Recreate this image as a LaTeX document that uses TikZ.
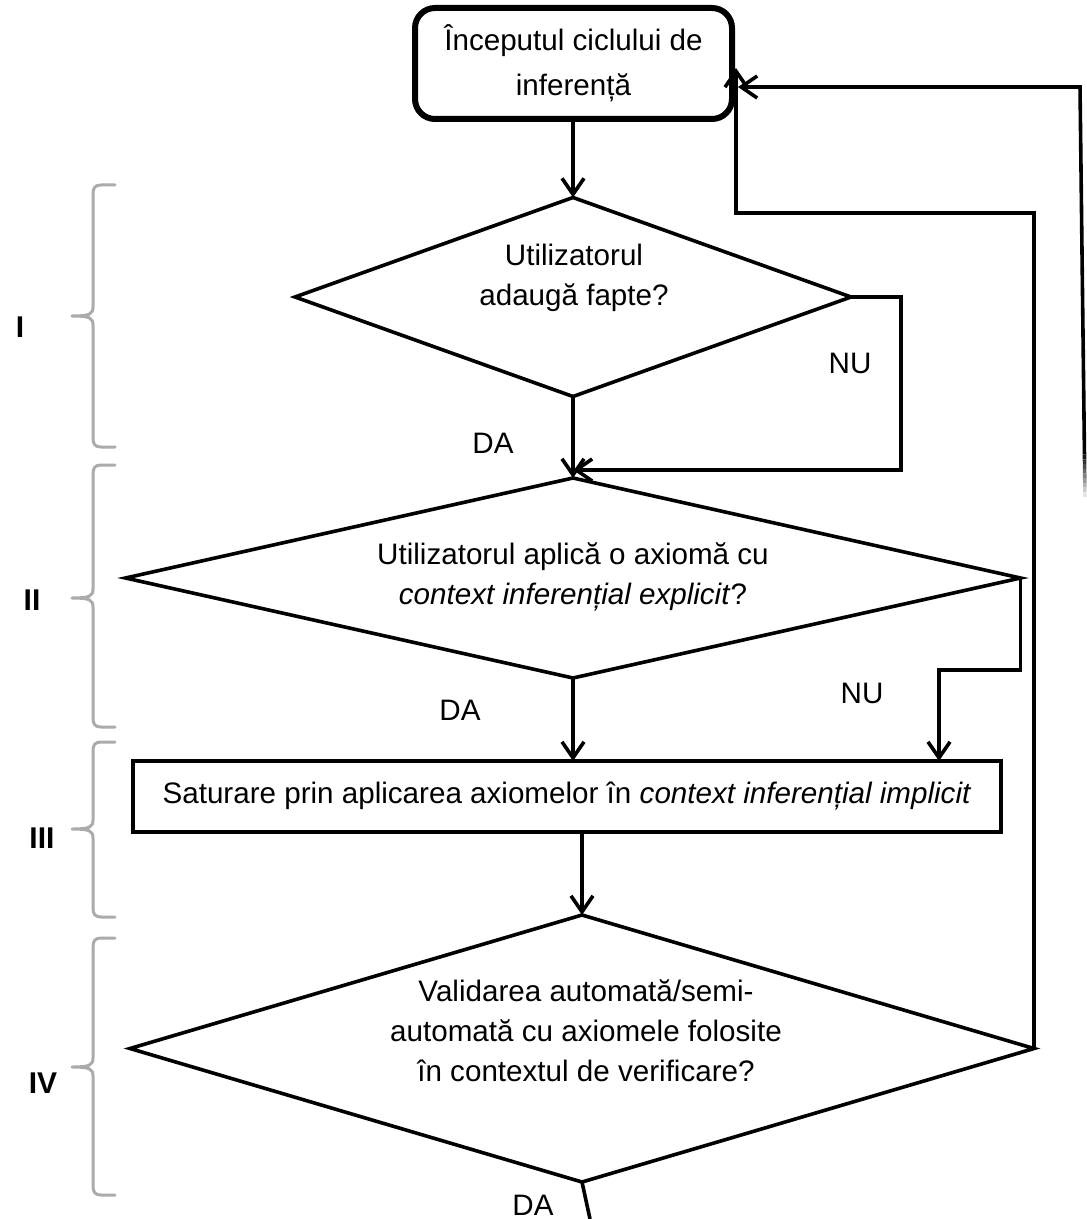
\documentclass[tikz,border=0pt]{standalone}
\usepackage{fontspec}
\setmainfont{Liberation Sans}
\usetikzlibrary{arrows.meta,shapes.geometric}

% grey curly bracket marking a stage: top, tip, bottom
\newcommand\grpbrace[3]{%
  \draw[stagebrace] (115,#1) -- (101,#1) .. controls (95,#1) and (93,#1+3) .. (93,#1+9)
    -- (93,#2-9) .. controls (93,#2-2) and (90,#2) .. (72,#2)
    .. controls (90,#2) and (93,#2+2) .. (93,#2+9)
    -- (93,#3-9) .. controls (93,#3-3) and (95,#3) .. (101,#3) -- (115,#3);}

\begin{document}
\begin{tikzpicture}[x=0.5pt,y=-0.5pt,
  every node/.style={font=\fontsize{14.8}{20}\selectfont, inner sep=0pt, outer sep=0pt},
  flow/.style={line width=1.8pt, line join=miter},
  arr/.style={flow, -{Straight Barb[length=8pt,width=11pt,line width=1.8pt]}},
  decision/.style={shape=diamond, draw, line width=1.8pt, inner sep=0pt, outer sep=0pt},
  startbox/.style={draw, line width=3pt, rounded corners=10pt, align=center,
    font=\fontsize{14.8}{22.5}\selectfont},
  procbox/.style={draw, line width=2pt},
  dtext/.style={align=center},
  answer/.style={},
  stagebrace/.style={draw=black!33, line width=1.5pt, line join=round, line cap=round},
  stage/.style={font=\fontsize{15}{20}\selectfont\bfseries}
]
\useasboundingbox (0,0) rectangle (1086,1219);

% start of the cycle
\node[startbox, minimum width=158.5pt, minimum height=55.5pt] (start) at (573.5,63.5)
  {Începutul ciclului de\\inferență};

% stage I
\node[decision, minimum width=278pt, minimum height=99.5pt] (d1) at (573,297) {};
\node[dtext] (t1) at (574,278) {Utilizatorul\\adaugă fapte?};

% stage II
\node[decision, minimum width=447.5pt, minimum height=100pt] (d2) at (573,578) {};
\node[dtext] (t2) at (573,577) {Utilizatorul aplică o axiomă cu\\\textit{context inferențial explicit}?};

% stage III
\node[procbox, minimum width=434pt, minimum height=35.5pt] (r) at (567,796.5)
  {Saturare prin aplicarea axiomelor în \textit{context inferențial implicit}};

% stage IV
\node[decision, minimum width=452pt, minimum height=133.5pt] (d3) at (582,1048.5) {};
\node[dtext] (t3) at (586,1031) {Validarea automată/semi-\\automată cu axiomele folosite\\în contextul de verificare?};

% answers
\node[answer] (da1) at (493,443) {DA};
\node[answer] (nu1) at (850,363) {NU};
\node[answer] (da2) at (460,710) {DA};
\node[answer] (nu2) at (862,693) {NU};
\node[answer] (da3) at (533,1205) {DA};

% routing points
\coordinate (j1) at (573,470);
\coordinate (k1) at (901,297);
\coordinate (k2) at (939,670);
\coordinate (backA) at (1036,213);
\coordinate (backB) at (736,68);
\coordinate (frs) at (1084.4,450);
\coordinate (fr1) at (1080,87);
\coordinate (fr2) at (738,87);
\coordinate (tail) at (590,1219);

% connectors
\draw[arr] (start.south -| d1.north) -- (d1.north);
\draw[arr] (d1.south) -- (d2.north);
\draw[arr] (d1.east) -- (k1) |- (j1);
\draw[arr] (d2.south) -- (d2.south |- r.north);
\draw[arr] (d2.east) |- (k2) -- (k2 |- r.north);
\draw[arr] (d3.north |- r.south) -- (d3.north);
\draw[arr] (d3.east) -- (d3.east |- backA) -| (backB);
\draw[flow] (d3.south) -- (tail);

% outer return line, fading out at its lower end
\draw[arr] (frs) -- (fr1) -- (fr2);
\foreach \i in {0,...,9}{
  \pgfmathsetmacro\ya{450+4.7*\i}
  \pgfmathsetmacro\yb{450+4.7*\i+4.7}
  \pgfmathsetmacro\xa{1084.4+0.0564*\i}
  \pgfmathsetmacro\xb{1084.4+0.0564*\i+0.0564}
  \pgfmathtruncatemacro\sh{100-10*\i}
  \draw[line width=1.8pt, black!\sh] (\xa,\ya) -- (\xb,\yb);
}

% stage brackets and numerals
\grpbrace{185}{316}{447}
\grpbrace{465}{598}{727}
\grpbrace{742}{829}{917}
\grpbrace{938}{1067}{1195}
\node[stage] (s1) at (20,327) {I};
\node[stage] (s2) at (32,600) {II};
\node[stage] (s3) at (42,838) {III};
\node[stage] (s4) at (43,1083) {IV};
\end{tikzpicture}
\end{document}
